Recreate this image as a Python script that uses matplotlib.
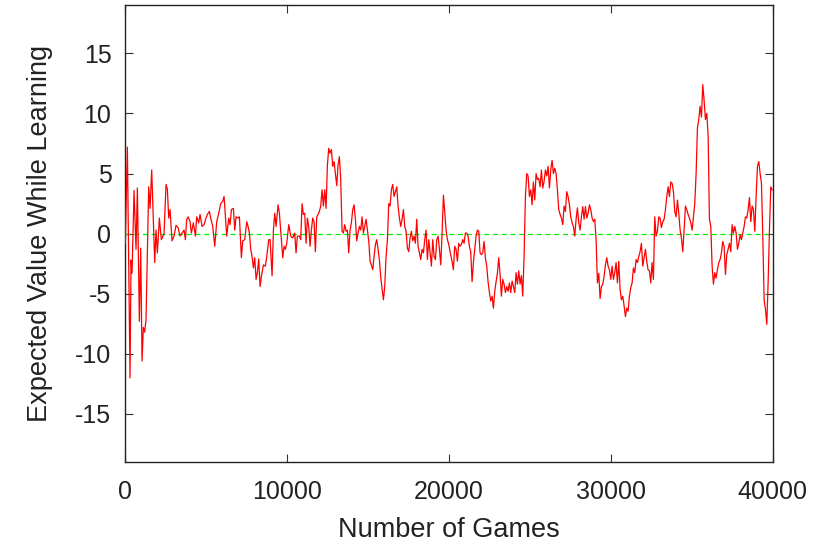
import numpy as np
import matplotlib
matplotlib.use("Agg")
import matplotlib.pyplot as plt

plt.rcParams['font.family'] = ['Liberation Sans', 'DejaVu Sans']

# Running expected value measured during learning, in four stretches of games
games_q1 = [0, 126, 290, 352, 414, 538, 661, 744, 867, 950, 1032, 1115, 1197, 1279, 1444, 1527,
            1630, 1733, 1815, 1897, 1980, 2103, 2227, 2392, 2515, 2598, 2680, 2763, 2886, 3010,
            3133, 3257, 3381, 3504, 3628, 3710, 3793, 3875, 3999, 4081, 4205, 4328, 4411, 4534,
            4617, 4740, 4864, 4987, 5070, 5193, 5276, 5399, 5523, 5647, 5770, 5894, 6017, 6100,
            6182, 6265, 6388, 6471, 6553, 6677, 6759, 6842, 6965, 7048, 7171, 7254, 7377, 7501,
            7583, 7666, 7748, 7830, 7913, 7995, 8078, 8160, 8242, 8325, 8407, 8531, 8654, 8737,
            8860, 8943, 9066, 9149, 9231, 9313, 9437, 9519, 9602, 9725, 9808, 9890, 9973, 10096]
ev_q1 = [-0.8, 7.2, -12.0, -2.2, -3.3, 3.6, -1.3, 3.8, -7.3, -1.2, -10.6, -7.8, -8.2, -7.1, 3.9, 2.1,
         5.3, 0.9, -2.4, 0.3, -1.6, 1.3, -0.5, 0.0, 4.1, 3.7, 1.3, 2.0, -0.6, -0.2,
         0.7, 0.5, -0.2, 0.05, 0.3, -0.5, 1.2, 1.4, 1.0, 0.05, 0.9, -0.2, 1.4, 0.9,
         1.6, 0.6, 0.75, 1.3, 1.6, 1.85, 1.3, 0.6, -1.05, 1.0, 1.7, 2.5, 2.7, 3.1,
         1.4, -0.2, 1.3, 0.75, 2.0, 2.1, 0.3, 1.4, 1.3, 1.4, -2.0, -0.6, -0.5, 1.0,
         0.6, 0.05, -1.3, -1.9, -2.85, -2.0, -3.8, -3.2, -2.1, -4.4, -3.55, -2.6, -2.7, -1.9,
         -0.5, -0.5, -3.5, 0.3, 1.7, 0.6, 2.4, 1.7, 0.2, -2.0, -1.05, -1.3, -0.8, 0.75]

games_q2 = [10218, 10342, 10465, 10548, 10630, 10754, 10836, 10919, 11001, 11083, 11166, 11248,
            11331, 11413, 11495, 11578, 11660, 11743, 11825, 11907, 11990, 12072, 12155, 12237,
            12319, 12402, 12484, 12567, 12649, 12731, 12814, 12896, 12979, 13061, 13143, 13226,
            13308, 13391, 13473, 13555, 13638, 13720, 13803, 13885, 13967, 14050, 14132, 14215,
            14297, 14379, 14462, 14544, 14627, 14709, 14791, 14874, 14956, 15039, 15121, 15203,
            15286, 15368, 15451, 15533, 15615, 15698, 15780, 15863, 15945, 16027, 16110, 16192,
            16275, 16357, 16439, 16522, 16604, 16687, 16769, 16851, 16934, 17016, 17099, 17181,
            17263, 17346, 17428, 17511, 17593, 17675, 17758, 17840, 17923, 18005, 18087, 18170,
            18252, 18335, 18417, 18499, 18582, 18664, 18747, 18829, 18911, 18994, 19076, 19159,
            19241, 19323, 19406, 19488, 19571, 19653, 19735, 19818, 19900, 19983, 20065]
ev_q2 = [-0.2, -0.35, 0.05, -1.6, -0.2, -0.2, -0.5, 2.5, 1.6, 1.7, -0.8, 1.3,
         0.6, -1.05, 0.3, 1.3, 1.0, -1.5, 1.4, 1.6, 1.85, 2.3, 3.65, 2.3,
         3.65, 2.1, 5.7, 7.1, 6.7, 7.0, 5.6, 6.0, 5.0, 4.0, 5.7, 6.4,
         4.5, 0.2, 0.05, 0.75, 0.2, 0.3, -1.6, 0.3, 0.9, 2.0, 2.4, 1.2,
         -0.6, 0.05, 0.6, 0.3, 1.4, 0.05, 0.6, 1.2, 0.3, -0.6, -2.3, -2.6,
         -3.0, -1.9, -0.9, -0.5, -1.3, -2.2, -3.6, -4.6, -5.5, -4.4, -1.9, -0.5,
         2.5, 2.3, 3.65, 4.1, 3.1, 3.5, 3.9, 2.3, 1.3, 0.6, 1.2, 2.0,
         0.6, 0.2, -1.2, -1.5, -0.35, 0.2, -0.6, -0.2, -0.8, 1.2, -1.05, -1.6,
         -2.15, -1.3, -1.6, -0.5, 0.3, -2.15, -0.5, -1.6, -2.7, -0.5, -1.9, -2.15,
         -0.5, -0.2, -1.3, -2.6, 0.05, 3.2, 1.7, 0.3, -0.5, -0.9, -1.5]

games_q3 = [20187, 20269, 20351, 20434, 20516, 20599, 20681, 20763, 20846, 20928, 21011, 21093,
            21175, 21258, 21340, 21423, 21505, 21587, 21670, 21752, 21835, 21917, 21999, 22082,
            22164, 22247, 22329, 22411, 22494, 22576, 22659, 22741, 22823, 22906, 22988, 23071,
            23153, 23235, 23318, 23400, 23483, 23565, 23647, 23730, 23812, 23895, 23977, 24059,
            24142, 24224, 24307, 24389, 24471, 24554, 24636, 24719, 24801, 24883, 24966, 25048,
            25131, 25213, 25295, 25378, 25460, 25543, 25625, 25707, 25790, 25872, 25955, 26037,
            26119, 26202, 26284, 26367, 26449, 26531, 26614, 26696, 26779, 26861, 26943, 27026,
            27108, 27191, 27273, 27355, 27438, 27520, 27603, 27685, 27767, 27850, 27932, 28015,
            28097, 28179, 28262, 28344, 28427, 28509, 28591, 28674, 28756, 28839, 28921, 29003,
            29086, 29168, 29251, 29333, 29415, 29498, 29580, 29663, 29745, 29827, 29910]
ev_q3 = [-2.3, -3.0, -1.05, -1.3, -2.3, -0.8, -1.05, -0.9, -0.5, -0.8, 0.05, 0.05,
         -0.2, -1.05, -1.5, -4.0, -2.4, -1.3, -0.2, 0.3, 0.2, -1.6, -1.75, -1.6,
         -0.65, -2.0, -2.7, -4.0, -4.9, -5.6, -5.2, -6.2, -4.8, -4.0, -3.3, -2.0,
         -3.4, -5.2, -3.8, -4.2, -4.9, -4.4, -4.8, -4.1, -4.9, -3.95, -4.4, -4.9,
         -3.25, -4.2, -3.1, -4.2, -3.5, -5.2, -1.9, 3.1, 5.0, 4.8, 3.1, 3.65,
         2.4, 4.3, 2.8, 5.0, 4.5, 4.6, 3.9, 5.3, 3.8, 4.35, 5.3, 4.8,
         5.6, 3.8, 5.3, 6.1, 5.0, 5.45, 5.0, 3.65, 2.0, 1.6, 1.3, 0.75,
         2.3, 1.85, 3.5, 3.1, 2.4, 1.4, 0.9, 0.6, -0.2, 1.2, 2.15, 0.9,
         0.3, 1.4, 2.25, 1.2, 2.25, 1.3, 1.7, 2.4, 2.0, 1.3, 1.0, 1.2,
         -0.5, -4.1, -3.3, -5.4, -4.4, -4.2, -3.55, -2.6, -2.0, -2.7, -3.0]

games_q4 = [29991, 30074, 30156, 30238, 30321, 30403, 30486, 30568, 30650, 30733, 30815, 30898,
            30980, 31062, 31145, 31227, 31310, 31392, 31474, 31557, 31639, 31722, 31804, 31886,
            31969, 32051, 32134, 32216, 32298, 32381, 32463, 32546, 32628, 32710, 32793, 32875,
            32958, 33040, 33122, 33205, 33287, 33370, 33452, 33534, 33617, 33699, 33782, 33864,
            33946, 34029, 34111, 34194, 34276, 34358, 34441, 34523, 34606, 34688, 34770, 34853,
            34935, 35018, 35100, 35182, 35265, 35347, 35430, 35512, 35594, 35677, 35759, 35842,
            35924, 36006, 36089, 36171, 36254, 36336, 36418, 36501, 36583, 36666, 36748, 36830,
            36913, 36995, 37078, 37160, 37242, 37325, 37407, 37490, 37572, 37654, 37737, 37819,
            37902, 37984, 38066, 38149, 38231, 38314, 38396, 38478, 38561, 38643, 38726, 38808,
            38890, 38973, 39055, 39138, 39220, 39302, 39385, 39467, 39550, 39632, 39714, 39797,
            39879, 39962]
ev_q4 = [-3.8, -2.7, -3.8, -3.25, -2.4, -4.1, -2.3, -4.65, -5.5, -5.2, -6.0, -6.9,
         -6.2, -6.45, -5.2, -4.5, -4.1, -2.85, -3.25, -2.15, -2.4, -1.9, -1.5, -0.8,
         -2.7, -2.0, -1.3, -2.3, -3.0, -3.1, -4.1, -2.4, -3.8, 1.4, -0.2, 0.2,
         1.4, 1.3, 0.5, 1.0, 1.2, 2.0, 3.1, 3.9, 3.1, 4.3, 4.2, 3.5,
         1.85, 1.4, 2.8, 1.7, 0.3, -0.35, -1.5, 0.3, 2.3, 2.0, 1.6, 1.3,
         0.9, 0.3, 1.4, 2.5, 5.0, 8.8, 9.5, 10.6, 9.7, 12.4, 11.1, 9.5,
         10.0, 8.2, 1.2, 0.6, -2.7, -4.2, -3.25, -3.7, -3.0, -2.4, -2.15, -1.6,
         -0.65, -1.05, -3.4, -1.75, -1.3, -0.8, -1.5, 0.75, 0.05, 0.6, 0.05, -1.3,
         -0.8, -0.1, -0.5, 0.05, 0.6, 1.4, 1.3, 2.0, 3.0, 1.0, 2.3, 2.0,
         0.2, 3.1, 5.6, 6.0, 5.0, 4.2, -0.2, -5.5, -6.3, -7.55, -4.1, 0.3,
         3.9, 3.65]

games = np.array(games_q1 + games_q2 + games_q3 + games_q4)
expected_value = np.array(ev_q1 + ev_q2 + ev_q3 + ev_q4)

x_ticks = [0, 10000, 20000, 30000, 40000]
y_ticks = [-15, -10, -5, 0, 5, 10, 15]

fig = plt.figure(figsize=(8.24, 5.48), dpi=100)
ax = fig.add_axes([0.1521, 0.1569, 0.7857, 0.8334])

ax.plot(games, expected_value, color='#ff0000', linewidth=0.9, zorder=3)
ax.axhline(0, color='#00ee00', linewidth=0.9, linestyle=(0, (4, 3)), zorder=2)

ax.set_xlim(0, 40000)
ax.set_ylim(-19, 19)
ax.set_xticks(x_ticks)
ax.set_yticks(y_ticks)
ax.set_xticklabels([str(t) for t in x_ticks])
ax.set_yticklabels([str(t) for t in y_ticks])

ax.tick_params(direction='in', length=6, width=0.8, color='#333333',
               top=True, right=True, labelsize=18, labelcolor='#222222')
ax.tick_params(axis='x', pad=13)
ax.tick_params(axis='y', pad=10)
for s in ax.spines.values():
    s.set_linewidth(1.0)
    s.set_color('#222222')

ax.set_xlabel('Number of Games', fontsize=19.5, color='#222222', labelpad=9)
ax.set_ylabel('Expected Value While Learning', fontsize=19.5, color='#222222', labelpad=16)

fig.savefig('out.png', dpi=100)
